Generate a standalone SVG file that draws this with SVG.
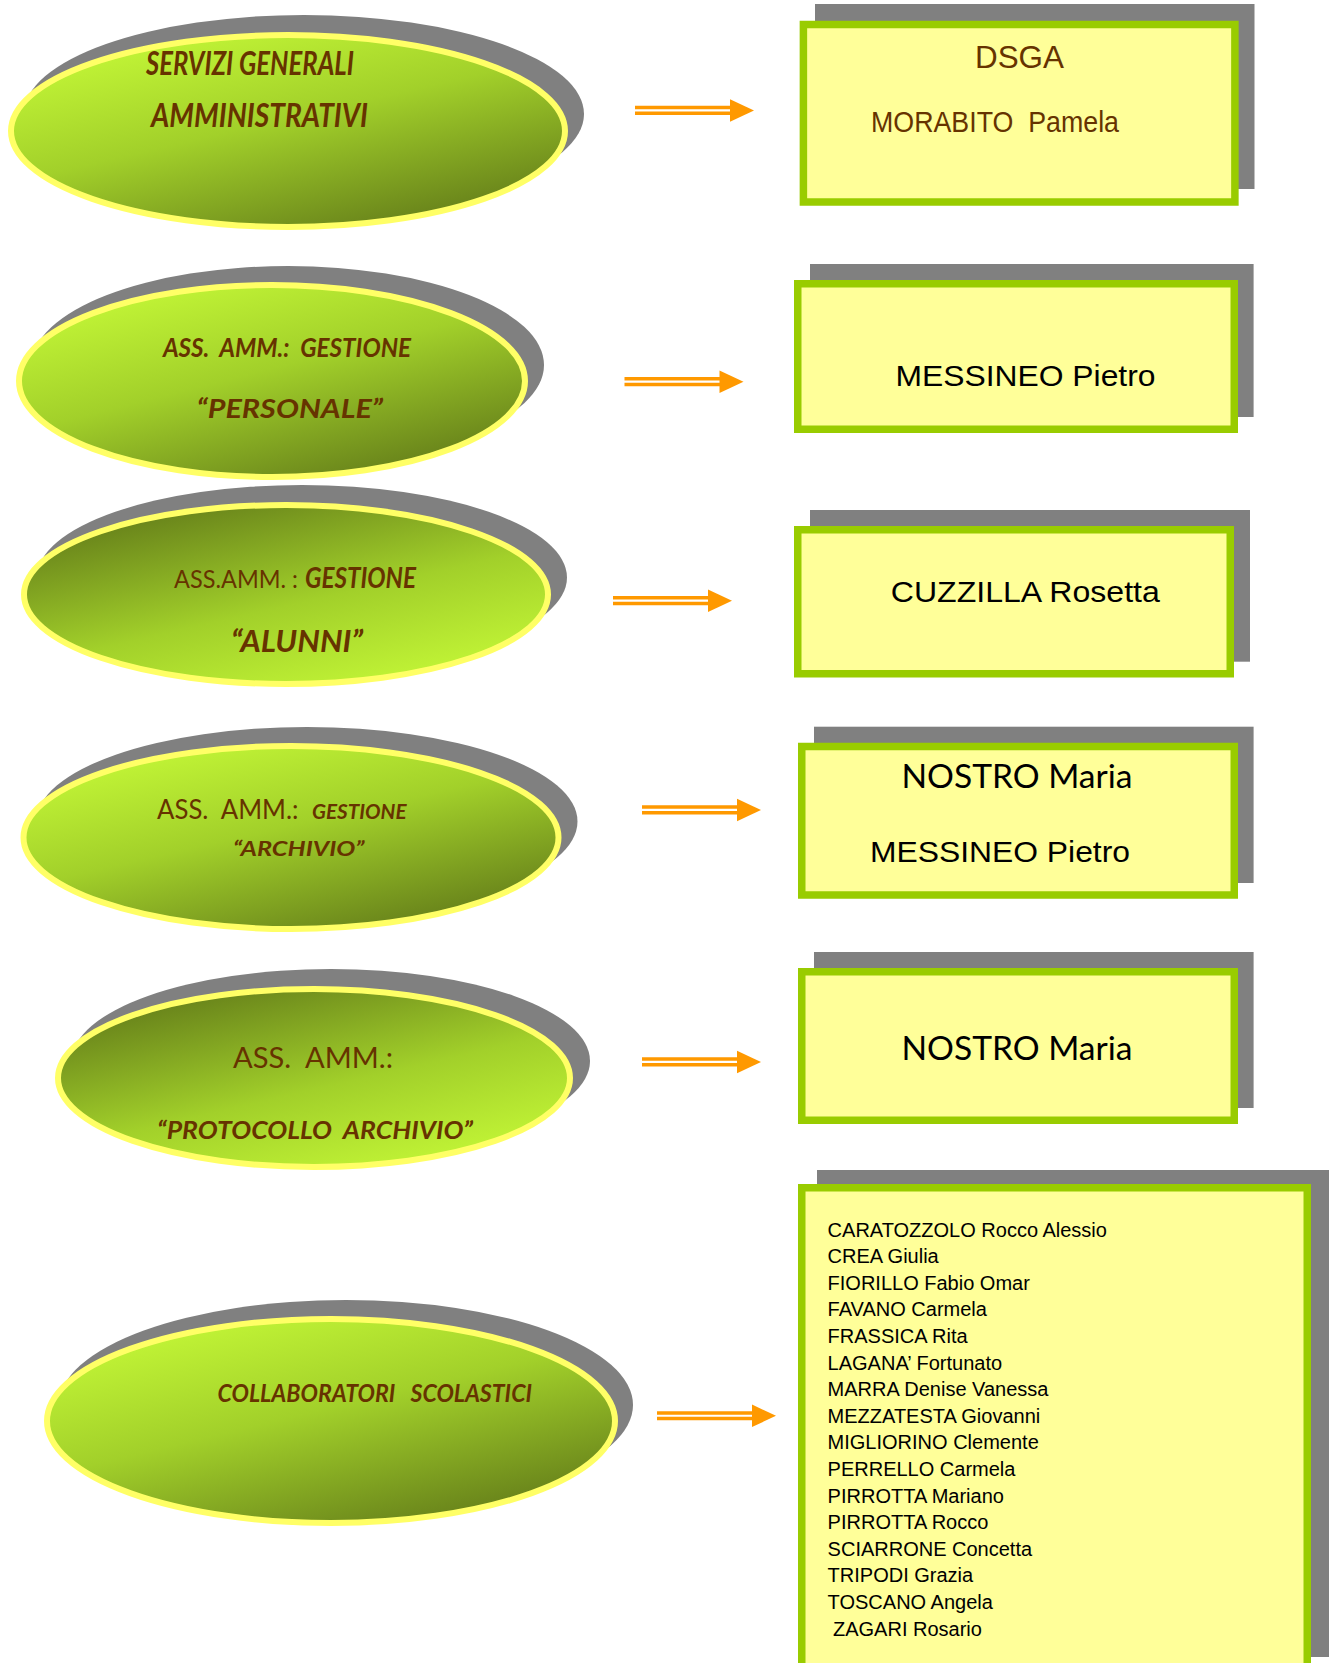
<svg xmlns="http://www.w3.org/2000/svg" width="1333" height="1663" viewBox="0 0 1333 1663">
<defs>
<linearGradient id="gA" x1="0.2" y1="0.05" x2="0.8" y2="0.95">
<stop offset="0" stop-color="#C2F536"/><stop offset="0.45" stop-color="#A2D02A"/><stop offset="1" stop-color="#66801A"/>
</linearGradient>
<linearGradient id="gB" x1="0.2" y1="0.05" x2="0.8" y2="0.95">
<stop offset="0" stop-color="#66801A"/><stop offset="0.55" stop-color="#A2D02A"/><stop offset="1" stop-color="#C2F536"/>
</linearGradient>
<g id="arrow">
<line x1="0" y1="-2.9" x2="97" y2="-2.9" stroke="#FF9900" stroke-width="3.5"/>
<line x1="0" y1="2.8" x2="97" y2="2.8" stroke="#FF9900" stroke-width="3.5"/>
<polygon points="95,-11.2 119,0 95,11.2" fill="#FF9900"/>
</g>
</defs>
<style>
.sh{fill:#808080}
.el{stroke:#FFFF66;stroke-width:6}
.bx{fill:#FFFF99;stroke:#99CC00;stroke-width:7.5}
.lb{font-family:Lato,"Open Sans",sans-serif;font-weight:bold;font-style:italic;fill:#663300}
.lr{font-family:Lato,"Open Sans",sans-serif;font-weight:normal;font-style:normal;fill:#663300}
.ar{font-family:"Liberation Sans",Arial,sans-serif;fill:#000}
.br{fill:#663300}
.ca{font-family:Lato,"Open Sans",sans-serif;fill:#000}
.li{font-family:"Liberation Sans",Arial,sans-serif;font-size:20px;fill:#000}
</style>
<rect width="1333" height="1663" fill="#FFFFFF"/>

<g id="n-servizi">
<ellipse class="sh" cx="304" cy="114" rx="280" ry="99"/>
<ellipse class="el" cx="288" cy="131" rx="277" ry="96" fill="url(#gA)"/>
<text class="lb" x="146" y="75" font-size="32" textLength="208" lengthAdjust="spacingAndGlyphs">SERVIZI GENERALI</text>
<text class="lb" x="151" y="126.7" font-size="32" textLength="217" lengthAdjust="spacingAndGlyphs">AMMINISTRATIVI</text>
</g>

<g id="n-personale">
<ellipse class="sh" cx="288" cy="365" rx="256" ry="99"/>
<ellipse class="el" cx="272" cy="381" rx="253" ry="96" fill="url(#gA)"/>
<text class="lb" x="163" y="357" font-size="27" textLength="248" lengthAdjust="spacingAndGlyphs" xml:space="preserve">ASS.  AMM.:  GESTIONE</text>
<text class="lb" x="196.5" y="418" font-size="27" textLength="186.5" lengthAdjust="spacingAndGlyphs">“PERSONALE”</text>
</g>

<g id="n-alunni">
<ellipse class="sh" cx="302" cy="577.5" rx="265" ry="92.5"/>
<ellipse class="el" cx="286" cy="594.5" rx="262" ry="89.5" fill="url(#gB)"/>
<text class="lr" x="174" y="588" font-size="25" textLength="124" lengthAdjust="spacingAndGlyphs">ASS.AMM. :</text>
<text class="lb" x="305" y="588" font-size="28" textLength="111" lengthAdjust="spacingAndGlyphs">GESTIONE</text>
<text class="lb" x="231" y="652" font-size="30" textLength="132" lengthAdjust="spacingAndGlyphs">“ALUNNI”</text>
</g>

<g id="n-archivio">
<ellipse class="sh" cx="307" cy="821.5" rx="270.5" ry="94.5"/>
<ellipse class="el" cx="291" cy="837.5" rx="267.5" ry="91.5" fill="url(#gA)"/>
<text class="lr" x="157" y="819" font-size="27" textLength="141.5" lengthAdjust="spacingAndGlyphs" xml:space="preserve">ASS.  AMM.:</text>
<text class="lb" x="312" y="819" font-size="20" textLength="94.5" lengthAdjust="spacingAndGlyphs">GESTIONE</text>
<text class="lb" x="233" y="856" font-size="21" textLength="131.6" lengthAdjust="spacingAndGlyphs">“ARCHIVIO”</text>
</g>

<g id="n-protocollo">
<ellipse class="sh" cx="331" cy="1061" rx="259" ry="92"/>
<ellipse class="el" cx="314" cy="1078" rx="256" ry="89" fill="url(#gB)"/>
<text class="lr" x="233" y="1068" font-size="28" textLength="160" lengthAdjust="spacingAndGlyphs" xml:space="preserve">ASS.  AMM.:</text>
<text class="lb" x="157" y="1139" font-size="25.5" textLength="316" lengthAdjust="spacingAndGlyphs" xml:space="preserve">“PROTOCOLLO  ARCHIVIO”</text>
</g>

<g id="n-collaboratori">
<ellipse class="sh" cx="346" cy="1405" rx="287" ry="105"/>
<ellipse class="el" cx="331" cy="1421" rx="284" ry="102" fill="url(#gA)"/>
<text class="lb" x="217.6" y="1402" font-size="25.5" textLength="314.4" lengthAdjust="spacingAndGlyphs" xml:space="preserve">COLLABORATORI   SCOLASTICI</text>
</g>

<g id="n-dsga">
<rect class="sh" x="815" y="4" width="439.5" height="185"/>
<rect class="bx" x="803.4" y="24.5" width="431.5" height="177.5"/>
<text class="ar br" x="975" y="67.7" font-size="31.5" textLength="89" lengthAdjust="spacingAndGlyphs">DSGA</text>
<text class="ar br" x="871" y="131.7" font-size="30" textLength="248" lengthAdjust="spacingAndGlyphs" xml:space="preserve">MORABITO  Pamela</text>
</g>

<g id="n-messineo">
<rect class="sh" x="810" y="264" width="443.6" height="153"/>
<rect class="bx" x="797.75" y="283.75" width="436.5" height="145.5"/>
<text class="ar" x="895.5" y="386" font-size="30" textLength="260" lengthAdjust="spacingAndGlyphs">MESSINEO Pietro</text>
</g>

<g id="n-cuzzilla">
<rect class="sh" x="810" y="510" width="440" height="151.7"/>
<rect class="bx" x="797.75" y="529.75" width="432.5" height="144"/>
<text class="ar" x="890.8" y="601.7" font-size="30" textLength="269" lengthAdjust="spacingAndGlyphs">CUZZILLA Rosetta</text>
</g>

<g id="n-nostro-messineo">
<rect class="sh" x="814" y="726.7" width="439.6" height="156.3"/>
<rect class="bx" x="801.75" y="746.5" width="432.5" height="148.5"/>
<text class="ca" x="901.5" y="788" font-size="32" textLength="231" lengthAdjust="spacingAndGlyphs">NOSTRO Maria</text>
<text class="ar" x="870" y="861.7" font-size="30" textLength="260" lengthAdjust="spacingAndGlyphs">MESSINEO Pietro</text>
</g>

<g id="n-nostro">
<rect class="sh" x="814" y="952" width="439.6" height="156"/>
<rect class="bx" x="801.75" y="971.75" width="432.5" height="148.5"/>
<text class="ca" x="901.5" y="1060" font-size="32" textLength="231" lengthAdjust="spacingAndGlyphs">NOSTRO Maria</text>
</g>

<g id="n-elenco">
<rect class="sh" x="817" y="1170" width="512" height="487"/>
<rect class="bx" x="801.75" y="1187.75" width="505.5" height="490"/>
<text class="li" x="827.6" y="1236.6">CARATOZZOLO Rocco Alessio</text>
<text class="li" x="827.6" y="1263.2">CREA Giulia</text>
<text class="li" x="827.6" y="1289.8">FIORILLO Fabio Omar</text>
<text class="li" x="827.6" y="1316.4">FAVANO Carmela</text>
<text class="li" x="827.6" y="1343">FRASSICA Rita</text>
<text class="li" x="827.6" y="1369.6">LAGANA’ Fortunato</text>
<text class="li" x="827.6" y="1396.2">MARRA Denise Vanessa</text>
<text class="li" x="827.6" y="1422.8">MEZZATESTA Giovanni</text>
<text class="li" x="827.6" y="1449.4">MIGLIORINO Clemente</text>
<text class="li" x="827.6" y="1476">PERRELLO Carmela</text>
<text class="li" x="827.6" y="1502.6">PIRROTTA Mariano</text>
<text class="li" x="827.6" y="1529.2">PIRROTTA Rocco</text>
<text class="li" x="827.6" y="1555.8">SCIARRONE Concetta</text>
<text class="li" x="827.6" y="1582.4">TRIPODI Grazia</text>
<text class="li" x="827.6" y="1609">TOSCANO Angela</text>
<text class="li" x="833" y="1635.6">ZAGARI Rosario</text>
</g>

<g id="conn">
<use href="#arrow" transform="translate(635,110.5)"/>
<use href="#arrow" transform="translate(624.5,381.7)"/>
<use href="#arrow" transform="translate(613,600.7)"/>
<use href="#arrow" transform="translate(642,810)"/>
<use href="#arrow" transform="translate(642,1062)"/>
<use href="#arrow" transform="translate(657,1415.8)"/>
</g>
</svg>
